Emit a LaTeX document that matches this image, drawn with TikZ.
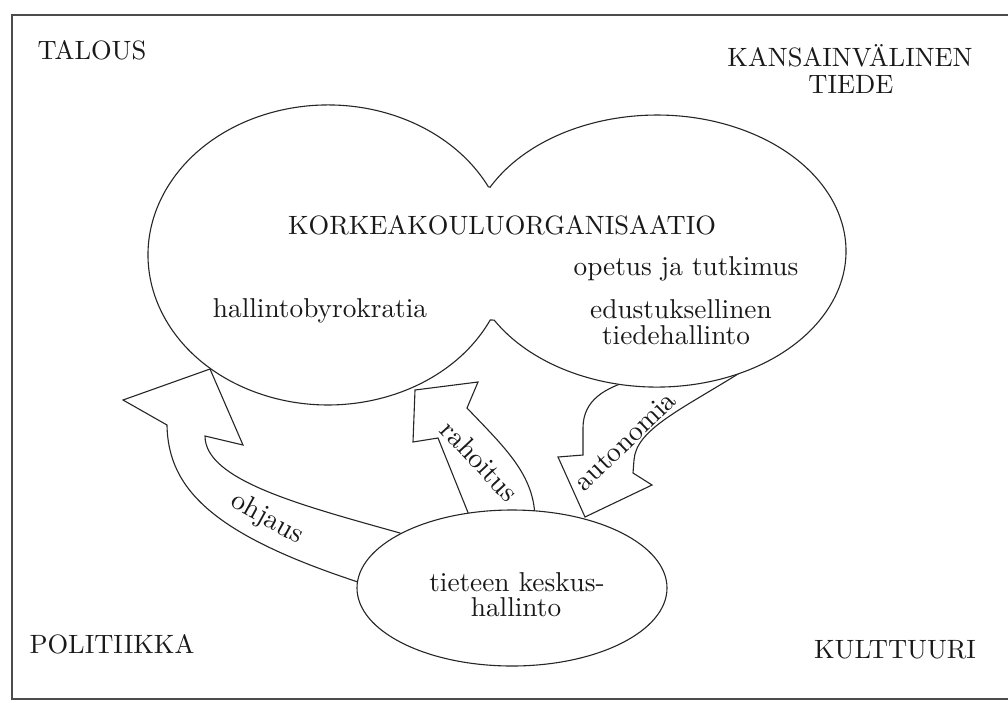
\documentclass[tikz,border=0pt]{standalone}
\usepackage{fontspec}
\setmainfont{lmroman10-regular}[Extension=.otf]
\usetikzlibrary{shapes.geometric}
\begin{document}
\begin{tikzpicture}[x=1pt,y=-1pt,
  lbl/.style={font=\fontsize{27.3}{28}\selectfont, inner sep=0pt, anchor=base, text=black!90},
  caps/.style={lbl, font=\fontsize{26.5}{28}\selectfont},
  arrlbl/.style={font=\fontsize{28}{29}\selectfont, inner sep=0pt, text=black!90},
  shapeline/.style={draw=black!85, fill=white, line width=1.1pt, line join=miter}]
\useasboundingbox (0,0) rectangle (1008,702);
\fill[white] (0,0) rectangle (1008,702);
% frame
\draw[black!70, line width=2pt] (1008,15) -- (12,15) -- (12,699) -- (1008,699);
% arrows
\draw[shapeline] (400,533) .. controls (300,505) and (205,480) .. (205,436)
  -- (243,445) -- (210,369) -- (123,400) -- (167,425)
  .. controls (168,490) and (215,535) .. (358,582) -- (420,560) -- cycle;
\draw[shapeline] (471,520) -- (438,438) -- (413,442) -- (415,390) -- (478,382) -- (467,408)
  .. controls (505,448) and (535,475) .. (535,520) -- cycle;
\draw[shapeline] (585,517) -- (558,457) -- (583,455) -- (583,428)
  .. controls (583,400) and (605,388) .. (632,380) -- (650,350) -- (745,350) -- (738,374)
  .. controls (680,410) and (636,430) .. (634,460) -- (633,473) -- (652,485) -- cycle;
% double-lobed organisation
\draw[shapeline] (490.2,320) arc[start angle=25.7, end angle=333, x radius=180, y radius=150]
  -- (490.1,187.2) arc[start angle=208, end angle=509.5, x radius=189, y radius=136] -- cycle;
% central administration
\node[ellipse, shapeline, minimum width=310pt, minimum height=156pt, inner sep=0pt] (kh) at (512,588) {};
% texts
\node[caps] (talous) at (92,59) {TALOUS};
\node[caps] (kv1) at (850,66) {KANSAINVÄLINEN};
\node[caps] (kv2) at (851,93) {TIEDE};
\node[caps] (pol) at (112,653) {POLITIIKKA};
\node[caps] (kul) at (895,658) {KULTTUURI};
\node[caps] (ko) at (502,234) {KORKEAKOULUORGANISAATIO};
\node[lbl] (hb) at (320,317) {hallintobyrokratia};
\node[lbl] (ot) at (686,275) {opetus ja tutkimus};
\node[lbl] (ed) at (681,318) {edustuksellinen};
\node[lbl] (th) at (676,344) {tiedehallinto};
\node[lbl] (tk1) at (517,591) {tieteen keskus-};
\node[lbl] (tk2) at (516,616) {hallinto};
\node[arrlbl, rotate=-29] (ohj) at (267,519) {ohjaus};
\node[arrlbl, rotate=-47] (rah) at (480,461) {rahoitus};
\node[arrlbl, rotate=44] (aut) at (625,441) {autonomia};
\end{tikzpicture}
\end{document}
